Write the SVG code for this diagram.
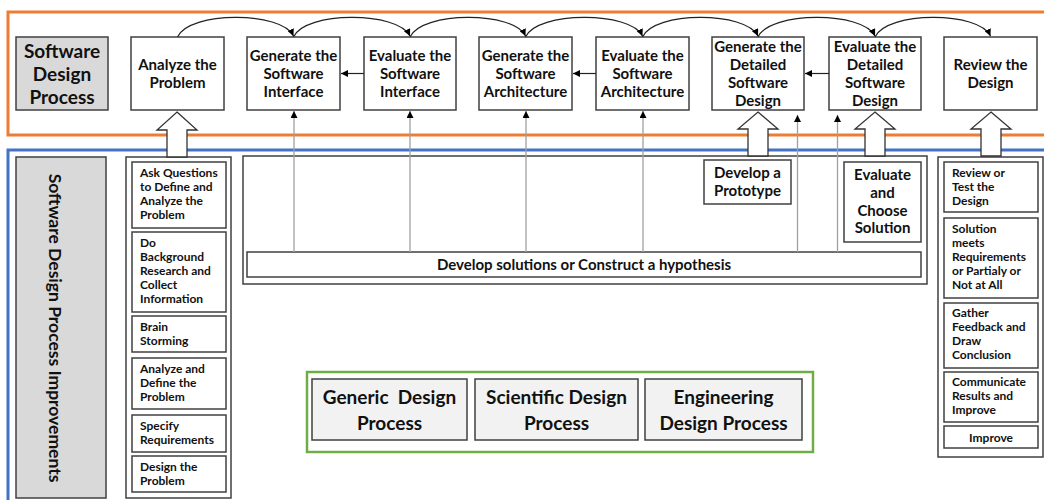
<svg xmlns="http://www.w3.org/2000/svg" width="1044" height="500" viewBox="0 0 1044 500">
<defs>
<marker id="ah" viewBox="0 0 10 10" refX="10" refY="5" markerWidth="7" markerHeight="7" markerUnits="userSpaceOnUse" orient="auto">
<path d="M0,0 L10,5 L0,10 z" fill="#000"/>
</marker>
<style>
.box{fill:#fff;stroke:#404040;stroke-width:1.5}
.gray{fill:#d9d9d9;stroke:#404040;stroke-width:1.5}
.lgray{fill:#f2f2f2;stroke:#404040;stroke-width:1.5}
.t{font-family:Lato,"Open Sans",sans-serif;font-weight:bold;fill:#111;text-anchor:middle}
.m{font-size:15px}
.s{font-size:12px;text-anchor:start}
.b{font-size:19px}
.c{fill:none;stroke:#222;stroke-width:1.2}
.v{fill:none;stroke:#a0a0a0;stroke-width:1.3}
.blk{fill:#fff;stroke:#333;stroke-width:1.3}
</style>
</defs>
<rect width="1044" height="500" fill="#fff"/>
<rect x="8" y="12" width="1042" height="123" fill="none" stroke="#ed7d31" stroke-width="3"/>
<rect x="8" y="150" width="1042" height="360" fill="none" stroke="#4472c4" stroke-width="3"/>

<g id="title">
<rect class="gray" x="16" y="37" width="92" height="73"/>
<text class="t" font-size="19" x="62" y="57.5">Software</text>
<text class="t" font-size="19" x="62" y="80.5">Design</text>
<text class="t" font-size="19" x="62" y="103.5">Process</text>
</g>
<g id="analyze">
<rect class="box" x="131" y="37" width="93" height="73"/>
<text class="t m" x="177.5" y="70">Analyze the</text>
<text class="t m" x="177.5" y="88">Problem</text>
</g>
<g id="genInterface">
<rect class="box" x="247" y="37" width="93" height="73"/>
<text class="t m" x="293.5" y="61">Generate the</text>
<text class="t m" x="293.5" y="79">Software</text>
<text class="t m" x="293.5" y="97">Interface</text>
</g>
<g id="evalInterface">
<rect class="box" x="364" y="37" width="92" height="73"/>
<text class="t m" x="410" y="61">Evaluate the</text>
<text class="t m" x="410" y="79">Software</text>
<text class="t m" x="410" y="97">Interface</text>
</g>
<g id="genArch">
<rect class="box" x="479" y="37" width="93" height="73"/>
<text class="t m" x="525.5" y="61">Generate the</text>
<text class="t m" x="525.5" y="79">Software</text>
<text class="t m" x="525.5" y="97">Architecture</text>
</g>
<g id="evalArch">
<rect class="box" x="596" y="37" width="93" height="73"/>
<text class="t m" x="642.5" y="61">Evaluate the</text>
<text class="t m" x="642.5" y="79">Software</text>
<text class="t m" x="642.5" y="97">Architecture</text>
</g>
<g id="genDetailed">
<rect class="box" x="712" y="37" width="92" height="73"/>
<text class="t m" x="758" y="52">Generate the</text>
<text class="t m" x="758" y="70">Detailed</text>
<text class="t m" x="758" y="88">Software</text>
<text class="t m" x="758" y="106">Design</text>
</g>
<g id="evalDetailed">
<rect class="box" x="829" y="37" width="92" height="73"/>
<text class="t m" x="875" y="52">Evaluate the</text>
<text class="t m" x="875" y="70">Detailed</text>
<text class="t m" x="875" y="88">Software</text>
<text class="t m" x="875" y="106">Design</text>
</g>
<g id="review">
<rect class="box" x="944" y="37" width="93" height="73"/>
<text class="t m" x="990.5" y="70">Review the</text>
<text class="t m" x="990.5" y="88">Design</text>
</g>

<g id="improvementsLabel">
<rect class="gray" x="16" y="157" width="90" height="341"/>
<text class="t" font-size="17.5" transform="translate(49,328) rotate(90)">Software Design Process Improvements</text>
</g>

<g id="leftColumn">
<rect class="box" x="126" y="157" width="105" height="341"/>
<rect class="box" x="132" y="162" width="94" height="66"/>
<text class="t s" x="140"><tspan x="140" y="177">Ask Questions</tspan><tspan x="140" y="191">to Define and</tspan><tspan x="140" y="205">Analyze the</tspan><tspan x="140" y="219">Problem</tspan></text>
<rect class="box" x="132" y="232" width="94" height="80"/>
<text class="t s" x="140"><tspan x="140" y="247">Do</tspan><tspan x="140" y="261">Background</tspan><tspan x="140" y="275">Research and</tspan><tspan x="140" y="289">Collect</tspan><tspan x="140" y="303">Information</tspan></text>
<rect class="box" x="132" y="316" width="94" height="36"/>
<text class="t s" x="140"><tspan x="140" y="331">Brain</tspan><tspan x="140" y="345">Storming</tspan></text>
<rect class="box" x="132" y="358" width="94" height="51"/>
<text class="t s" x="140"><tspan x="140" y="373">Analyze and</tspan><tspan x="140" y="387">Define the</tspan><tspan x="140" y="401">Problem</tspan></text>
<rect class="box" x="132" y="415" width="94" height="37"/>
<text class="t s" x="140"><tspan x="140" y="430">Specify</tspan><tspan x="140" y="444">Requirements</tspan></text>
<rect class="box" x="132" y="456" width="94" height="36"/>
<text class="t s" x="140"><tspan x="140" y="471">Design the</tspan><tspan x="140" y="485">Problem</tspan></text>
</g>

<g id="middle">
<rect class="box" x="243" y="156" width="684" height="128"/>
<rect class="box" x="247" y="252" width="674" height="25"/>
<text class="t" font-size="15" x="584" y="269.5">Develop solutions or Construct a hypothesis</text>
</g>
<g id="prototype">
<rect class="box" x="704" y="160" width="87" height="44"/>
<text class="t m" x="747.5" y="178">Develop a</text>
<text class="t m" x="747.5" y="196">Prototype</text>
</g>
<g id="evaluateChoose">
<rect class="box" x="844" y="162" width="77" height="80"/>
<text class="t m" x="882.5" y="180">Evaluate</text>
<text class="t m" x="882.5" y="198">and</text>
<text class="t m" x="882.5" y="215.5">Choose</text>
<text class="t m" x="882.5" y="233">Solution</text>
</g>

<g id="rightColumn">
<rect class="box" x="938" y="157" width="105" height="300"/>
<rect class="box" x="944" y="162" width="94" height="50"/>
<text class="t s" x="952"><tspan x="952" y="177">Review or</tspan><tspan x="952" y="191">Test the</tspan><tspan x="952" y="205">Design</tspan></text>
<rect class="box" x="944" y="218" width="94" height="80"/>
<text class="t s" x="952"><tspan x="952" y="233">Solution</tspan><tspan x="952" y="247">meets</tspan><tspan x="952" y="261">Requirements</tspan><tspan x="952" y="275">or Partialy or</tspan><tspan x="952" y="289">Not at All</tspan></text>
<rect class="box" x="944" y="303" width="94" height="65"/>
<text class="t s" x="952"><tspan x="952" y="317">Gather</tspan><tspan x="952" y="331">Feedback and</tspan><tspan x="952" y="345">Draw</tspan><tspan x="952" y="359">Conclusion</tspan></text>
<rect class="box" x="944" y="372" width="94" height="50"/>
<text class="t s" x="952"><tspan x="952" y="386">Communicate</tspan><tspan x="952" y="400">Results and</tspan><tspan x="952" y="414">Improve</tspan></text>
<rect class="box" x="944" y="426" width="94" height="22"/>
<text class="t" font-size="12" x="991" y="441.5">Improve</text>
</g>

<g id="processes">
<rect x="307" y="372" width="506" height="80" fill="none" stroke="#70ad47" stroke-width="2.5"/>
<rect class="lgray" x="312" y="379" width="155" height="61"/>
<text class="t b" x="389.5" y="403.5" xml:space="preserve">Generic  Design</text>
<text class="t b" x="389.5" y="429.5">Process</text>
<rect class="lgray" x="475" y="379" width="163" height="61"/>
<text class="t b" x="556.5" y="403.5">Scientific Design</text>
<text class="t b" x="556.5" y="429.5">Process</text>
<rect class="lgray" x="645" y="379" width="157" height="61"/>
<text class="t b" x="723.5" y="403.5">Engineering</text>
<text class="t b" x="723.5" y="429.5">Design Process</text>
</g>

<g id="connectors">
<path class="c" d="M177.5,37 C189,11 282,11 293.5,36" marker-end="url(#ah)"/>
<path class="c" d="M293.5,37 C305,11 398,11 410,36" marker-end="url(#ah)"/>
<path class="c" d="M410,37 C422,11 514,11 525.5,36" marker-end="url(#ah)"/>
<path class="c" d="M525.5,37 C537,11 631,11 642.5,36" marker-end="url(#ah)"/>
<path class="c" d="M642.5,37 C654,11 746,11 758,36" marker-end="url(#ah)"/>
<path class="c" d="M758,37 C770,11 863,11 875,36" marker-end="url(#ah)"/>
<path class="c" d="M875,37 C887,11 979,11 990.5,36" marker-end="url(#ah)"/>
<path class="c" d="M364,73.5 L341,73.5" marker-end="url(#ah)"/>
<path class="c" d="M596,73.5 L573,73.5" marker-end="url(#ah)"/>
<path class="c" d="M829,73.5 L805,73.5" marker-end="url(#ah)"/>
<path class="v" d="M294,252 L294,111" marker-end="url(#ah)"/>
<path class="v" d="M410,252 L410,111" marker-end="url(#ah)"/>
<path class="v" d="M526,252 L526,111" marker-end="url(#ah)"/>
<path class="v" d="M643,252 L643,111" marker-end="url(#ah)"/>
<path class="v" d="M797.5,252 L797.5,115" marker-end="url(#ah)"/>
<path class="v" d="M837.5,252 L837.5,115" marker-end="url(#ah)"/>
<polygon class="blk" points="177,112 197,130 187,130 187,157 167,157 167,130 157,130"/>
<polygon class="blk" points="758,112 778,129 768,129 768,156 748,156 748,129 738,129"/>
<polygon class="blk" points="875,112 895,129 885,129 885,156 865,156 865,129 855,129"/>
<polygon class="blk" points="991,112 1011,129 1001,129 1001,156 981,156 981,129 971,129"/>
</g>
</svg>
